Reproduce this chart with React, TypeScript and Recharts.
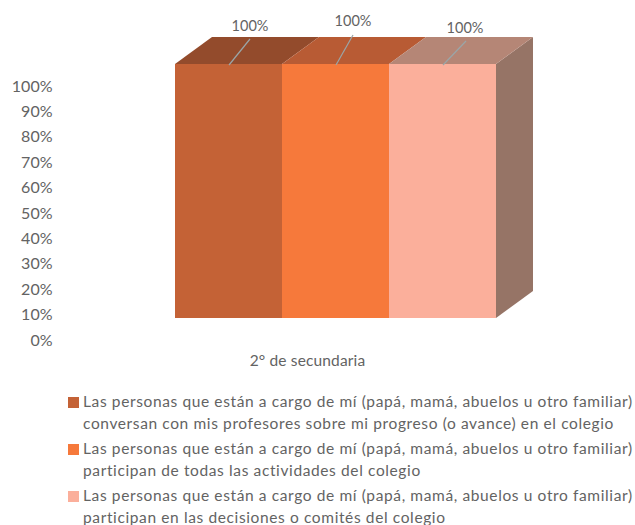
import React from "react";
import { BarChart, Bar, XAxis, YAxis, LabelList } from "recharts";

const categories = ["2° de secundaria"];
const seriesA = [1];
const seriesB = [1];
const seriesC = [1];
const yTicks = [0, 0.1, 0.2, 0.3, 0.4, 0.5, 0.6, 0.7, 0.8, 0.9, 1];
const legendA = ["Las personas que están a cargo de mí (papá, mamá, abuelos u otro familiar)", "conversan con mis profesores sobre mi progreso (o avance) en el colegio"];
const legendB = ["Las personas que están a cargo de mí (papá, mamá, abuelos u otro familiar)", "participan de todas las actividades del colegio"];
const legendC = ["Las personas que están a cargo de mí (papá, mamá, abuelos u otro familiar)", "participan en las decisiones o comités del colegio"];

const data = categories.map((c, i) => ({ name: c, a: seriesA[i], b: seriesB[i], c: seriesC[i] }));

const FONT = "Lato, 'Open Sans', sans-serif";
const TEXT = "#636363";
const DX = 37;
const DY = 27;

const makeShape = (front: string, top: string, side?: string) => (p: any) => {
  const { x, y, width: w, height: h } = p;
  return (
    <g>
      {side && <polygon fill={side} points={`${x + w},${y} ${x + w + DX},${y - DY} ${x + w + DX},${y + h - DY} ${x + w},${y + h}`} />}
      <polygon fill={top} points={`${x},${y} ${x + DX},${y - DY} ${x + w + DX},${y - DY} ${x + w},${y}`} />
      <rect x={x} y={y} width={w} height={h} fill={front} />
    </g>
  );
};

const makeLabel = (lineFromDx: number, lineDx: number, lineDy: number, textDx: number, textDy: number) => (p: any) => {
  const { x, y, value } = p;
  const x0 = x + lineFromDx;
  return (
    <g>
      <line x1={x0} y1={y + 1} x2={x0 + lineDx} y2={y + 1 + lineDy} stroke="#9aa6a8" strokeWidth={1.2} />
      <text x={x0 + textDx} y={y + textDy} textAnchor="middle" fontFamily={FONT} fontSize={14.5} fill={TEXT}>
        {`${Math.round(value * 100)}%`}
      </text>
    </g>
  );
};

const YTick = (p: any) => (
  <text x={52.5} y={p.y + 27.5} textAnchor="end" fontFamily={FONT} fontSize={16} fill={TEXT}>
    {`${Math.round(p.payload.value * 100)}%`}
  </text>
);

const XTick = (p: any) => (
  <text x={p.x - 28} y={p.y + 39.5} textAnchor="middle" fontFamily={FONT} fontSize={15.5} letterSpacing={0.15} fill={TEXT}>
    {p.payload.value}
  </text>
);

const legendItems = [
  { color: "#C46236", lines: legendA },
  { color: "#F6793B", lines: legendB },
  { color: "#FBAF9B", lines: legendC },
];

const LegendBox = () => (
  <div style={{ position: "absolute", left: 68, top: 391, width: 567, fontFamily: FONT, fontSize: 15.5, color: TEXT, lineHeight: "21.5px", whiteSpace: "nowrap" }}>
    {legendItems.map((it, i) => (
      <div key={i} style={{ position: "relative", paddingLeft: 15, marginBottom: 4, letterSpacing: "0.62px" }}>
        <span style={{ position: "absolute", left: 0, top: 6, width: 10.5, height: 11, background: it.color }} />
        {it.lines.map((l, j) => (
          <div key={j}>{l}</div>
        ))}
      </div>
    ))}
  </div>
);

export default function App() {
  return (
    <div style={{ position: "absolute", left: 0, top: 0, width: 635, height: 525, background: "#fff", overflow: "hidden" }}>
      <BarChart width={635} height={525} data={data} barGap={0} barCategoryGap={0} margin={{ top: 64, right: 139, bottom: 0, left: 0 }}>
        <XAxis dataKey="name" axisLine={false} tickLine={false} tick={XTick} height={207} />
        <YAxis width={175} domain={[0, 1]} ticks={yTicks} interval={0} axisLine={false} tickLine={false} tick={YTick} />
        <Bar dataKey="a" isAnimationActive={false} shape={makeShape("#C46236", "#934B2C")}>
          <LabelList dataKey="a" content={makeLabel(54, 21, -26, 21, -33)} />
        </Bar>
        <Bar dataKey="b" isAnimationActive={false} shape={makeShape("#F6793B", "#B85B34")}>
          <LabelList dataKey="b" content={makeLabel(54, 17, -30, 17, -38)} />
        </Bar>
        <Bar dataKey="c" isAnimationActive={false} shape={makeShape("#FBAF9B", "#B58676", "#967466")}>
          <LabelList dataKey="c" content={makeLabel(54, 23, -24, 22, -31)} />
        </Bar>
      </BarChart>
      <LegendBox />
    </div>
  );
}
